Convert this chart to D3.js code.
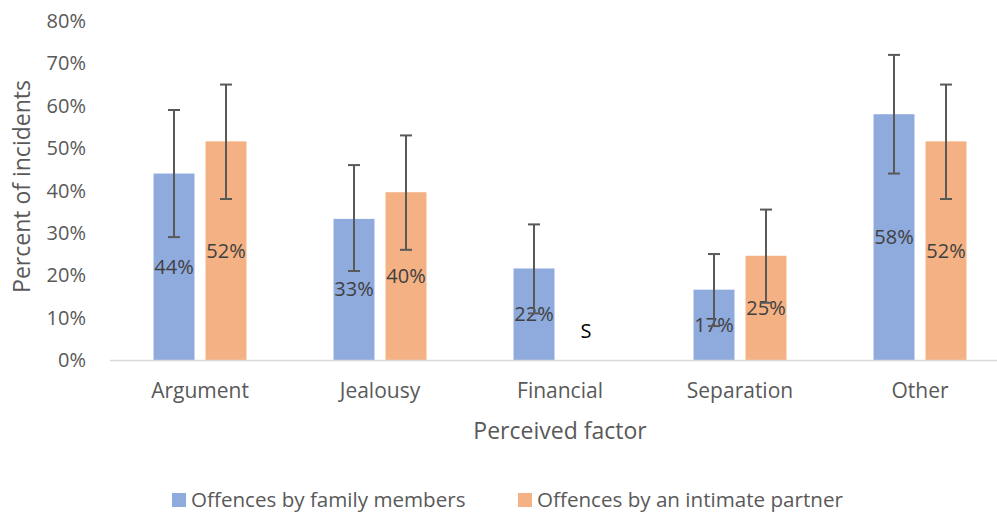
<!DOCTYPE html>
<html lang="en">
<head>
    <meta charset="UTF-8">
    <title>Perceived factor chart</title>
    <script src="https://d3js.org/d3.v7.min.js"></script>
    <style>
        body {
            margin: 0;
            padding: 0;
            background-color: #ffffff;
            font-family: "Open Sans", "Liberation Sans", sans-serif;
        }

        svg {
            display: block;
            overflow: hidden;
        }

        .tick-label {
            font-size: 20px;
            fill: #595959;
        }

        .cat-label {
            font-size: 21px;
            fill: #595959;
        }

        .axis-title {
            font-size: 23px;
            fill: #595959;
        }

        .legend-label {
            font-size: 20.6px;
            fill: #595959;
        }

        .value-label {
            font-size: 20px;
            fill: #404040;
            text-anchor: middle;
        }

        .err {
            stroke: #595959;
            stroke-width: 2px;
        }
    </style>
</head>
<body>
    <svg width="997" height="513"></svg>

    <script>
        // chart values
        const categories = ["Argument", "Jealousy", "Financial", "Separation", "Other"];
        const seriesNames = ["Offences by family members", "Offences by an intimate partner"];
        const familyValues = [0.44, 0.333, 0.216, 0.166, 0.58];
        const partnerValues = [0.516, 0.396, null, 0.246, 0.516];
        const familyLow = [0.29, 0.21, 0.11, 0.08, 0.44];
        const familyHigh = [0.59, 0.46, 0.32, 0.25, 0.72];
        const partnerLow = [0.38, 0.26, null, 0.135, 0.38];
        const partnerHigh = [0.65, 0.53, null, 0.355, 0.65];
        const suppressedLabel = "S";
        const yTicks = [0, 0.1, 0.2, 0.3, 0.4, 0.5, 0.6, 0.7, 0.8];

        const colors = ["#8faadc", "#f4b183"];

        const svg = d3.select("svg");

        const plotLeft = 110, plotRight = 1010, plotTop = 21, plotBottom = 360;

        const x0 = d3.scaleBand()
            .domain(categories)
            .range([plotLeft, plotRight])
            .paddingInner(0)
            .paddingOuter(0);

        const x1 = d3.scaleBand()
            .domain([0, 1])
            .range([0, x0.bandwidth()])
            .paddingInner(0.212)
            .paddingOuter(0.837);

        const y = d3.scaleLinear()
            .domain([0, 0.8])
            .range([plotBottom, plotTop]);

        const fmt = d3.format(".0%");

        // rows built from the arrays
        const rows = [];
        categories.forEach((c, i) => {
            rows.push({ cat: c, s: 0, v: familyValues[i], lo: familyLow[i], hi: familyHigh[i] });
            rows.push({ cat: c, s: 1, v: partnerValues[i], lo: partnerLow[i], hi: partnerHigh[i] });
        });
        const present = rows.filter(d => d.v !== null);
        const missing = rows.filter(d => d.v === null);

        // y axis tick labels
        svg.append("g")
            .selectAll("text")
            .data(yTicks)
            .enter().append("text")
            .attr("class", "tick-label")
            .attr("x", 86)
            .attr("y", d => y(d))
            .attr("dy", "0.35em")
            .attr("text-anchor", "end")
            .text(d => fmt(d));

        // bars
        svg.append("g")
            .selectAll("rect")
            .data(present)
            .enter().append("rect")
            .attr("x", d => x0(d.cat) + x1(d.s))
            .attr("width", x1.bandwidth())
            .attr("y", d => y(d.v))
            .attr("height", d => y(0) - y(d.v))
            .attr("fill", d => colors[d.s]);

        // x axis line
        svg.append("line")
            .attr("x1", plotLeft)
            .attr("x2", plotRight)
            .attr("y1", y(0) + 0.5)
            .attr("y2", y(0) + 0.5)
            .attr("stroke", "#d9d9d9")
            .attr("stroke-width", 1.5);

        // value labels (centered in bar)
        svg.append("g")
            .selectAll("text")
            .data(present)
            .enter().append("text")
            .attr("class", "value-label")
            .attr("x", d => x0(d.cat) + x1(d.s) + x1.bandwidth() / 2)
            .attr("y", d => (y(d.v) + y(0)) / 2)
            .attr("dy", "0.35em")
            .text(d => fmt(d.v));

        // error bars
        const cap = 6;
        const eb = svg.append("g")
            .selectAll("g")
            .data(present)
            .enter().append("g")
            .attr("class", "err")
            .attr("transform", d => `translate(${x0(d.cat) + x1(d.s) + x1.bandwidth() / 2},0)`);
        eb.append("line")
            .attr("y1", d => y(d.lo)).attr("y2", d => y(d.hi));
        eb.append("line")
            .attr("x1", -cap).attr("x2", cap)
            .attr("y1", d => y(d.hi)).attr("y2", d => y(d.hi));
        eb.append("line")
            .attr("x1", -cap).attr("x2", cap)
            .attr("y1", d => y(d.lo)).attr("y2", d => y(d.lo));

        // suppressed value marker
        svg.append("g")
            .selectAll("text")
            .data(missing)
            .enter().append("text")
            .attr("x", d => x0(d.cat) + x1(d.s) + x1.bandwidth() / 2)
            .attr("y", y(0.068))
            .attr("dy", "0.35em")
            .attr("text-anchor", "middle")
            .style("font-size", "20px")
            .style("fill", "#000")
            .text(suppressedLabel);

        // category labels
        svg.append("g")
            .selectAll("text")
            .data(categories)
            .enter().append("text")
            .attr("class", "cat-label")
            .attr("x", d => x0(d) + x0.bandwidth() / 2)
            .attr("y", 391)
            .attr("dy", "0.35em")
            .attr("text-anchor", "middle")
            .text(d => d);

        // axis titles
        svg.append("text")
            .attr("class", "axis-title")
            .attr("x", (plotLeft + plotRight) / 2)
            .attr("y", 431)
            .attr("dy", "0.35em")
            .attr("text-anchor", "middle")
            .text("Perceived factor");

        svg.append("text")
            .attr("class", "axis-title")
            .attr("transform", `translate(22,${(plotTop + plotBottom) / 2 - 4}) rotate(-90)`)
            .attr("dy", "0.35em")
            .attr("text-anchor", "middle")
            .text("Percent of incidents");

        // legend
        const legendX = [172, 518];
        const legend = svg.append("g")
            .selectAll("g")
            .data(seriesNames)
            .enter().append("g")
            .attr("transform", (d, i) => `translate(${legendX[i]},493)`);
        legend.append("rect")
            .attr("width", 14)
            .attr("height", 14)
            .attr("fill", (d, i) => colors[i]);
        legend.append("text")
            .attr("class", "legend-label")
            .attr("x", 19)
            .attr("y", 14)
            .text(d => d);
    </script>
</body>
</html>
